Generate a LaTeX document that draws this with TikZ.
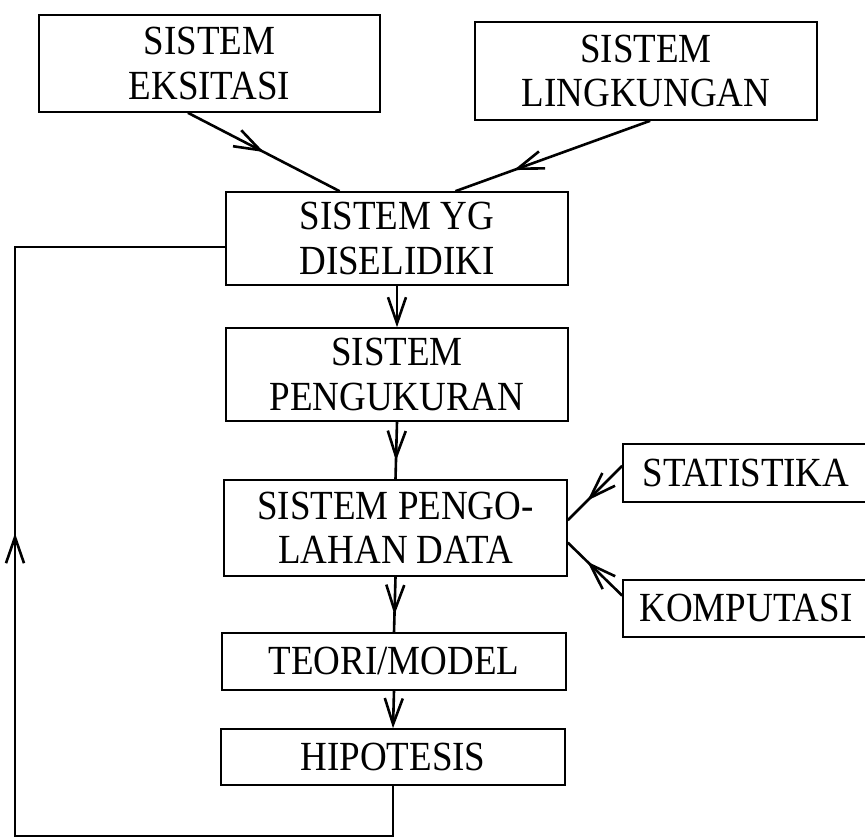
\documentclass[tikz,border=0pt]{standalone}
\usepackage{graphicx}
\usepackage{fontspec}
\setmainfont{Liberation Serif}
\usetikzlibrary{arrows.meta,calc,decorations.markings}
\newcommand{\boxtext}[1]{\raisebox{0pt}[\dimexpr\height+4.5pt\relax][\dimexpr\depth-4.5pt\relax]{\scalebox{1}[1.12]{\begin{tabular}{@{}c@{}}#1\end{tabular}}}}
\begin{document}
\begin{tikzpicture}[x=1pt,y=-1pt,
  box/.style={draw, line width=1.6pt, inner sep=0pt, align=center,
    font=\fontsize{37}{40}\selectfont},
  conn/.style={line width=2.6pt},
  endarrow/.style={conn, -{Straight Barb[length=26pt,width=18pt]}},
  midarrow/.style={conn, postaction={decorate},
    decoration={markings, mark=at position #1 with {\arrow{Straight Barb[length=26pt,width=18pt]}}}}
]
\useasboundingbox (0,0) rectangle (865,838);
\clip (0,0) rectangle (865,838);

\node[box, minimum width=341pt, minimum height=97pt] (eks) at (209.5,63.5) {\boxtext{SISTEM\\EKSITASI}};
\node[box, minimum width=342pt, minimum height=98pt] (lin) at (646,71) {\boxtext{SISTEM\\LINGKUNGAN}};
\node[box, minimum width=342pt, minimum height=93pt] (dis) at (397,238.5) {\boxtext{SISTEM YG\\DISELIDIKI}};
\node[box, minimum width=342pt, minimum height=93pt] (ukur) at (397,374.5) {\boxtext{SISTEM\\PENGUKURAN}};
\node[box, minimum width=343pt, minimum height=96pt] (olah) at (395.5,528) {\boxtext{SISTEM PENGO-\\LAHAN DATA}};
\node[box, minimum width=344pt, minimum height=57pt] (teori) at (394,661.5) {\boxtext{TEORI/MODEL}};
\node[box, minimum width=344pt, minimum height=56pt] (hipo) at (393,757) {\boxtext{HIPOTESIS}};
\node[box, minimum width=246pt, minimum height=58pt] (stat) at (746,473) {\boxtext{STATISTIKA}};
\node[box, minimum width=246pt, minimum height=57pt] (komp) at (746,608.5) {\boxtext{KOMPUTASI}};

% inputs to the investigated system
\draw[midarrow=0.5] ($(eks.south west)!0.437!(eks.south east)$) -- ($(dis.north west)!0.333!(dis.north east)$);
\draw[midarrow=0.7] ($(lin.south west)!0.512!(lin.south east)$) -- ($(dis.north west)!0.67!(dis.north east)$);

% main chain
\draw[endarrow] (dis.south) -- (ukur.north);
\draw[midarrow=39pt] (ukur.south) -- (olah.north);
\draw[midarrow=38pt] (olah.south) -- (teori.north);
\draw[endarrow] (teori.south) -- (hipo.north);

% side inputs
\draw[midarrow=0.64] ($(stat.north west)!0.38!(stat.south west)$) -- ($(olah.north east)!0.42!(olah.south east)$);
\draw[midarrow=0.64] ($(komp.north west)!0.28!(komp.south west)$) -- ($(olah.north east)!0.65!(olah.south east)$);

% feedback loop
\coordinate (lb) at (15,836);
\draw[midarrow=731pt] (hipo.south) |- (lb) |- ($(dis.north west)!0.59!(dis.south west)$);
\end{tikzpicture}
\end{document}
